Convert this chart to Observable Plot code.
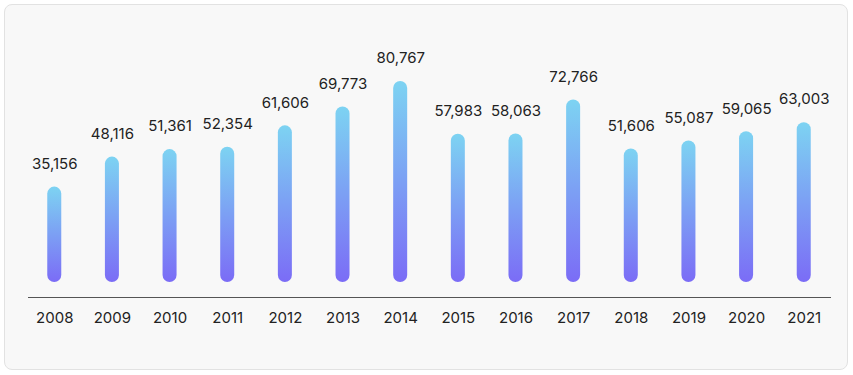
<!DOCTYPE html>
<html>
<head>
<meta charset="utf-8">
<script src="https://cdn.jsdelivr.net/npm/d3@7"></script>
<script src="https://cdn.jsdelivr.net/npm/@observablehq/plot@0.6"></script>
<style>
  html, body { margin: 0; padding: 0; background: #ffffff; }
  #wrap { position: relative; width: 853px; height: 375px; overflow: hidden; }
  #card { position: absolute; left: 4px; top: 4px; width: 842px; height: 364px;
          border: 1px solid #e2e2e2; border-radius: 8px; background: #f8f8f8; }
  #chart { position: absolute; left: 0; top: 0; }
  #chart svg { background: transparent; font-family: Inter, "Noto Sans", sans-serif; }
</style>
</head>
<body>
<div id="wrap"><div id="card"></div><div id="chart"></div></div>
<script>
const years = ["2008","2009","2010","2011","2012","2013","2014","2015","2016","2017","2018","2019","2020","2021"];
const values = [35156, 48116, 51361, 52354, 61606, 69773, 80767, 57983, 58063, 72766, 51606, 55087, 59065, 63003];
const gradTop = "#7dd3f2";
const gradBottom = "#7b6cf6";

const data = years.map((year, i) => ({year, value: values[i]}));
const fmt = d3.format(",");

const plot = Plot.plot({
  width: 853,
  height: 375,
  marginLeft: 28,
  marginRight: 23,
  marginTop: 20,
  marginBottom: 78,
  style: {background: "transparent", fontSize: "15px", color: "#222", fontFamily: "Inter, sans-serif"},
  x: {type: "band", domain: years, round: false, paddingInner: 0.757, paddingOuter: 0.334, tickSize: 0, tickPadding: 15, label: null},
  y: {domain: [0, d3.max(values)], range: [268, 81], axis: null},
  marks: [
    Plot.barY(data, {x: "year", y: "value", fill: "url(#barGrad)", rx: 7, insetBottom: -14}),
    Plot.text(data, {x: "year", y: "value", text: d => fmt(d.value), dy: -23, fill: "#222", fontSize: 15}),
    Plot.frame({anchor: "bottom", stroke: "#555"})
  ]
});

const svg = d3.select(plot);
const grad = svg.insert("defs", ":first-child")
  .append("linearGradient")
  .attr("id", "barGrad")
  .attr("x1", 0).attr("y1", 0).attr("x2", 0).attr("y2", 1);
grad.append("stop").attr("offset", "0%").attr("stop-color", gradTop);
grad.append("stop").attr("offset", "100%").attr("stop-color", gradBottom);

document.getElementById("chart").appendChild(plot);
</script>
</body>
</html>
